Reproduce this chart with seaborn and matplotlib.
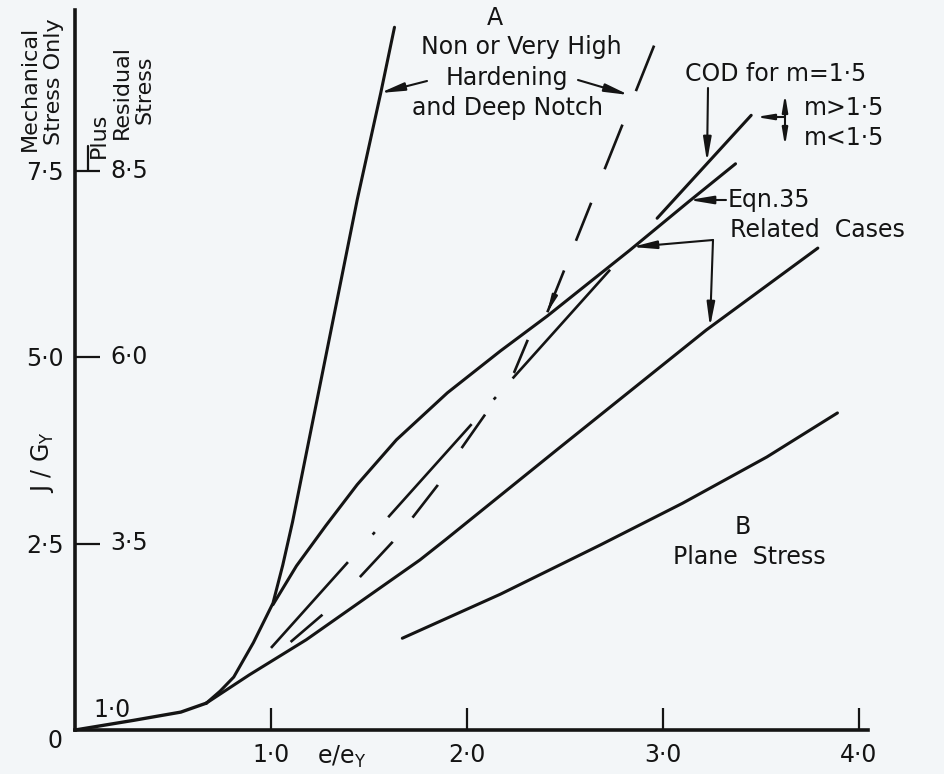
import numpy as np
import pandas as pd
import matplotlib
matplotlib.use("Agg")
import matplotlib.pyplot as plt
import seaborn as sns

# ---------------- data (x = e/e_Y, y = J/G_Y, mechanical-stress scale) ----------------
start_x = [0.00, 0.30, 0.54, 0.67]
start_y = [0.00, 0.13, 0.24, 0.36]

# curve A (non / very high hardening, deep notch)
curve_a_x = [0.67, 0.74, 0.81, 0.91, 1.01, 1.06, 1.11, 1.44, 1.56, 1.63]
curve_a_y = [0.36, 0.52, 0.71, 1.17, 1.70, 2.21, 2.79, 7.11, 8.54, 9.42]

# main curve (Eqn. 35), branching from A
eqn35_x = [1.01, 1.13, 1.28, 1.44, 1.64, 1.90, 2.17, 2.41, 2.83, 3.13, 3.37]
eqn35_y = [1.68, 2.20, 2.74, 3.29, 3.89, 4.52, 5.08, 5.55, 6.43, 7.08, 7.59]

# COD for m = 1.5
cod_x = [2.97, 3.45]
cod_y = [6.86, 8.24]

related_x = [0.67, 0.89, 1.18, 1.76, 1.89, 2.47, 3.22, 3.79]
related_y = [0.36, 0.74, 1.21, 2.28, 2.55, 3.78, 5.36, 6.46]

plane_x = [1.67, 2.17, 2.68, 3.10, 3.53, 3.89]
plane_y = [1.23, 1.82, 2.48, 3.04, 3.66, 4.25]

hardening_x = [2.41, 2.96]
hardening_y = [5.60, 9.21]

mlow_x = [1.10, 1.26, 1.45, 1.62, 1.72, 1.85, 1.97, 2.09, 2.24, 2.31]
mlow_y = [1.18, 1.54, 2.04, 2.52, 2.84, 3.28, 3.77, 4.22, 4.79, 5.23]

dashdot_x = [1.00, 2.73]
dashdot_y = [1.10, 6.17]

x_ticks = [1.0, 2.0, 3.0, 4.0]
x_tick_labels = ["1·0", "2·0", "3·0", "4·0"]
y_ticks = [2.5, 5.0, 7.5]
y_tick_labels = ["2·5", "5·0", "7·5"]
residual_ticks = [0.0, 2.5, 5.0, 7.5]
residual_labels = ["1·0", "3·5", "6·0", "8·5"]

# ---------------- style ----------------
sns.set_theme(style="white")
INK = "#141414"
BG = "#f3f6f8"
plt.rcParams["font.family"] = ["DejaVu Sans"]
plt.rcParams["lines.scale_dashes"] = False
plt.rcParams["text.color"] = INK
FS = 17

W, H = 945, 774
fig = plt.figure(figsize=(W / 100, H / 100), dpi=100)
fig.patch.set_facecolor(BG)

X0, Y0 = 75, 730          # pixel position of origin
SX, SY = 196.0, 74.6      # pixels per unit
ax = fig.add_axes([X0 / W, (H - Y0) / H, (868 - X0) / W, (Y0 - 10) / H])
ax.set_facecolor(BG)
ax.set_xlim(0, (868 - X0) / SX)
ax.set_ylim(0, (Y0 - 10) / SY)


def P(px, py):
    return ((px - X0) / SX, (Y0 - py) / SY)


frames = []
for name, xs, ys in [
    ("start", start_x, start_y), ("A", curve_a_x, curve_a_y), ("eqn35", eqn35_x, eqn35_y),
    ("COD", cod_x, cod_y), ("related", related_x, related_y), ("plane", plane_x, plane_y),
    ("hardening", hardening_x, hardening_y), ("mlow", mlow_x, mlow_y),
    ("dashdot", dashdot_x, dashdot_y),
]:
    frames.append(pd.DataFrame({"x": xs, "y": ys, "curve": name, "order": range(len(xs))}))
df = pd.concat(frames, ignore_index=True)

styles = {
    "start": (2.4, None),
    "A": (2.2, None),
    "eqn35": (2.2, None),
    "COD": (2.2, None),
    "related": (2.2, None),
    "plane": (2.2, None),
    "hardening": (1.9, [32.4, 23, 29.5, 26, 34.6, 26, 35.3, 80]),
    "mlow": (1.9, [30.2, 38.2, 34.7, 22.5, 29.8, 31.5, 29.5, 36.4, 26.1, 80]),
    "dashdot": (1.9, [83, 26.6, 2.4, 14.4, 90, 23.8, 2.4, 18, 110, 80]),
}
for name, (lw, dash) in styles.items():
    sub = df[df["curve"] == name].sort_values("order")
    sns.lineplot(data=sub, x="x", y="y", sort=False, estimator=None, color=INK,
                 linewidth=lw, legend=False, ax=ax)
    line = ax.lines[-1]
    line.set_solid_capstyle("round")
    line.set_solid_joinstyle("round")
    line.set_clip_on(False)
    if dash is not None:
        line.set_dashes(dash)

# ---------------- axes ----------------
for s in ["top", "right"]:
    ax.spines[s].set_visible(False)
for s in ["left", "bottom"]:
    ax.spines[s].set_linewidth(2.6)
    ax.spines[s].set_color(INK)
    ax.spines[s].set_capstyle("projecting")

ax.set_xticks(x_ticks)
ax.set_xticklabels(x_tick_labels, fontsize=FS, color=INK)
ax.set_yticks(y_ticks)
ax.set_yticklabels(y_tick_labels, fontsize=FS, color=INK)
ax.tick_params(axis="x", bottom=True, direction="in", length=16, width=1.6,
               color=INK, pad=9)
ax.tick_params(axis="y", left=True, direction="in", length=18, width=1.6,
               color=INK, pad=8)
ax.set_xlabel("")
ax.set_ylabel("")

for v, lab in zip(residual_ticks, residual_labels):
    ax.text(0.179 if v > 0 else 0.092, v + (0 if v > 0 else 0.27), lab,
            fontsize=FS, ha="left", va="center", color=INK)

# origin label
ax.text(*P(55, 741), "0", fontsize=FS, ha="center", va="center", clip_on=False)
# x-axis label
ax.text(*P(342, 757), "e/e$_\\mathregular{Y}$", fontsize=FS, ha="center", va="center",
        clip_on=False)


def ftext(px, py, s, **kw):
    fig.text(px / W, 1 - py / H, s, fontsize=kw.pop("fontsize", FS), color=INK, **kw)


ftext(42, 462, "J / G$_\\mathregular{Y}$", rotation=90, ha="center", va="center")
ftext(30, 88, "Mechanical", rotation=90, ha="center", va="center", fontsize=16)
ftext(54, 82, "Stress Only", rotation=90, ha="center", va="center", fontsize=16)
ftext(99, 135, "Plus", rotation=90, ha="center", va="center", fontsize=16)
ftext(122, 92, "Residual", rotation=90, ha="center", va="center", fontsize=16)
ftext(145, 90, "Stress", rotation=90, ha="center", va="center", fontsize=16)

# small bar beside "Plus"
ax.annotate("", xy=P(88, 170), xytext=P(88, 146),
            arrowprops=dict(arrowstyle="-", color=INK, lw=1.6, shrinkA=0, shrinkB=0))

# annotation texts
ax.text(*P(495, 18), "A", fontsize=FS, ha="center", va="center")
ax.text(*P(521, 47), "Non or Very High", fontsize=FS, ha="center", va="center")
ax.text(*P(507, 78), "Hardening", fontsize=FS, ha="center", va="center")
ax.text(*P(508, 108), "and Deep Notch", fontsize=FS, ha="center", va="center")
ax.text(*P(776, 74), "COD for m=1·5", fontsize=FS, ha="center", va="center")
ax.text(*P(804, 108), "m>1·5", fontsize=FS, ha="left", va="center")
ax.text(*P(804, 138), "m<1·5", fontsize=FS, ha="left", va="center")
ax.text(*P(728, 200), "Eqn.35", fontsize=FS, ha="left", va="center")
ax.text(*P(730, 230), "Related  Cases", fontsize=FS, ha="left", va="center")
ax.text(*P(743, 527), "B", fontsize=FS, ha="center", va="center")
ax.text(*P(749, 557), "Plane  Stress", fontsize=FS, ha="center", va="center")

# arrows
AP = dict(arrowstyle="-|>,head_length=0.9,head_width=0.15", color=INK, lw=1.5,
          shrinkA=0, shrinkB=0, mutation_scale=16)
APs = dict(arrowstyle="-|>,head_length=0.9,head_width=0.15", color=INK, lw=1.5,
           shrinkA=0, shrinkB=0, mutation_scale=11)
for tail, tip, style in [
    ((427, 81), (380, 93), AP),
    ((578, 80), (629, 95), AP),
    ((708, 88), (707, 162), AP),
    ((785, 117), (756, 117), APs),
    ((785, 117), (785, 94), APs),
    ((785, 117), (785, 146), APs),
    ((726, 200), (689, 200), AP),
    ((713, 240), (632, 247), AP),
    ((713, 240), (710, 327), AP),
    ((553, 299), (547, 313), APs),
]:
    ax.annotate("", xy=P(*tip), xytext=P(*tail), arrowprops=style)

fig.savefig("out.png", dpi=100, facecolor=BG)
